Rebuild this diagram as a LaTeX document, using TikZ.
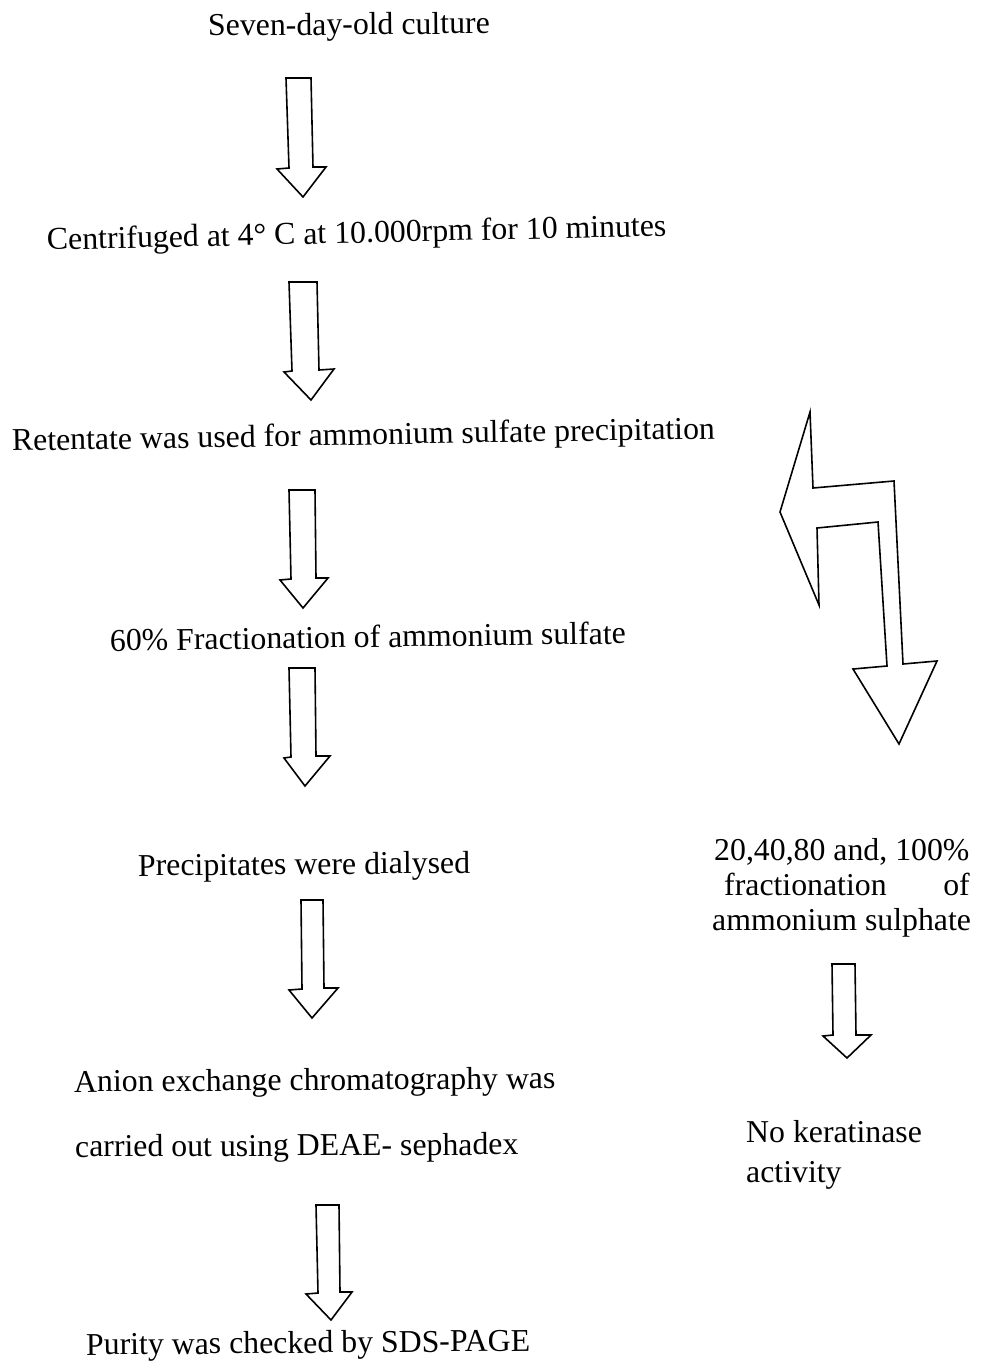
\documentclass[tikz,border=0pt]{standalone}
\usepackage{fontspec}
\setmainfont{Liberation Serif}
\begin{document}
\begin{tikzpicture}[x=1pt,y=-1pt,
  lbl/.style={inner sep=0pt,anchor=base west,font=\fontsize{31.8}{34}\selectfont},
  blockarrow/.style={draw=black,line width=1.6pt,line join=miter,fill=white}]
\useasboundingbox (0,0) rectangle (988,1364);
\fill[white] (0,0) rectangle (988,1364);

% left column texts
\node[lbl,rotate=0.5] (t1) at (208,36) {Seven-day-old culture};
\node[lbl,rotate=1.3] (t2) at (47,250) {Centrifuged at 4° C at 10.000rpm for 10 minutes};
\node[lbl,rotate=1.0] (t3) at (12,451) {Retentate was used for ammonium sulfate precipitation};
\node[lbl,rotate=0.8] (t4) at (110,651) {60\% Fractionation of ammonium sulfate};
\node[lbl,rotate=0.5] (t5) at (138,876) {Precipitates were dialysed};
\node[lbl,rotate=0.4] (t6a) at (74,1092) {Anion exchange chromatography was};
\node[lbl,rotate=0.3] (t6b) at (75,1157) {carried out using DEAE- sephadex};
\node[lbl,rotate=0.5] (t7) at (86,1355) {Purity was checked by SDS-PAGE};

% right column texts
\node[lbl] (r1) at (714,860) {20,40,80 and, 100\%};
\node[lbl] (r2a) at (724,895) {fractionation};
\node[lbl,anchor=base east] (r2b) at (970,895) {of};
\node[lbl] (r3) at (712,930) {ammonium sulphate};
\node[lbl] (r4) at (746,1142) {No keratinase};
\node[lbl] (r5) at (746,1182) {activity};

% block arrows (left column)
\draw[blockarrow] (286,78) -- (311,78) -- (313,167) -- (326,167) -- (303,197) -- (277,169) -- (289,168) -- cycle;
\draw[blockarrow] (289,282) -- (317,282) -- (319,370) -- (334,369) -- (311,400) -- (284,372) -- (292,371) -- cycle;
\draw[blockarrow] (289,490) -- (315,490) -- (316,578) -- (328,578) -- (303,608) -- (280,580) -- (291,579) -- cycle;
\draw[blockarrow] (289,668) -- (315,668) -- (316,756) -- (330,756) -- (305,786) -- (284,758) -- (291,757) -- cycle;
\draw[blockarrow] (301,900) -- (323,900) -- (324,988) -- (338,988) -- (312,1018) -- (289,990) -- (302,989) -- cycle;
\draw[blockarrow] (316,1205) -- (339,1205) -- (340,1292) -- (352,1292) -- (331,1320) -- (306,1294) -- (318,1293) -- cycle;

% right column arrow
\draw[blockarrow] (832,964) -- (855,964) -- (856,1035) -- (871,1035) -- (847,1058) -- (823,1036) -- (833,1035) -- cycle;

% double bent arrow
\draw[blockarrow] (810,412) -- (813,488) -- (894,481) -- (903,664) -- (937,661) -- (899,744) -- (853,669) -- (887,666) -- (878,522) -- (817,528) -- (819,605) -- (780,512) -- cycle;
\end{tikzpicture}
\end{document}
